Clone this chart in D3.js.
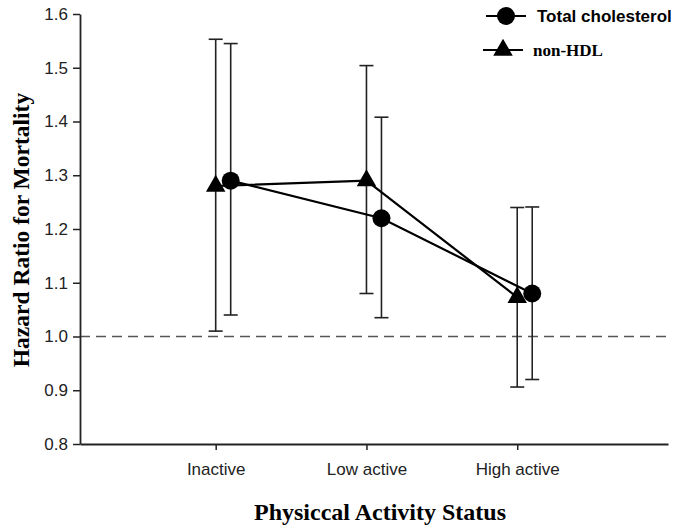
<!DOCTYPE html>
<html><head><meta charset="utf-8">
<script src="https://cdn.jsdelivr.net/npm/d3@7"></script>
<style>body{margin:0;background:#fff}svg{display:block}</style>
</head><body>
<svg id="c" width="675" height="529"></svg>
<script>
const categories = ["Inactive", "Low active", "High active"];
const yTicks = [0.8, 0.9, 1.0, 1.1, 1.2, 1.3, 1.4, 1.5, 1.6];
const seriesNames = ["Total cholesterol", "non-HDL"];
const tcValues = [1.29, 1.22, 1.08];
const tcLower = [1.04, 1.035, 0.92];
const tcUpper = [1.545, 1.408, 1.241];
const nhValues = [1.28, 1.29, 1.073];
const nhLower = [1.01, 1.08, 0.906];
const nhUpper = [1.553, 1.504, 1.240];
const refLine = 1.0;

const svg = d3.select("#c");
const x = d3.scaleLinear().domain([0.1, 4.0]).range([80, 668]);
const y = d3.scaleLinear().domain([0.8, 1.6]).range([444, 14]);
const xc = i => x(i + 1);
const sans = "Arial, 'Liberation Sans', sans-serif";
const serif = "'Liberation Serif', 'Times New Roman', serif";

// reference line
svg.append("line").attr("x1", 80).attr("x2", 668).attr("y1", y(refLine)).attr("y2", y(refLine))
  .attr("stroke", "#555").attr("stroke-width", 1.3).attr("stroke-dasharray", "10,6");

// axes
const yAxis = d3.axisLeft(y).tickValues(yTicks).tickFormat(d3.format(".1f")).tickSize(7).tickSizeOuter(0);
const gy = svg.append("g").attr("transform", "translate(80,0)").call(yAxis);
gy.selectAll("text").attr("font-family", sans).attr("font-size", 17).attr("fill", "#222").attr("dx", "-2");
gy.selectAll("line").attr("stroke", "#222").attr("stroke-width", 1.5);
gy.select(".domain").attr("stroke", "#222").attr("stroke-width", 1.8);

const xAxis = d3.axisBottom(x).tickValues([1, 2, 3]).tickFormat((d, i) => categories[i]).tickSize(6).tickSizeOuter(0);
const gx = svg.append("g").attr("transform", "translate(0,444)").call(xAxis);
gx.selectAll("text").attr("font-family", sans).attr("font-size", 17).attr("fill", "#222").attr("dy", "1.3em");
gx.selectAll("line").attr("stroke", "#222").attr("stroke-width", 1.5);
gx.select(".domain").attr("stroke", "#222").attr("stroke-width", 2);

// axis titles
svg.append("text").attr("x", 380).attr("y", 520).attr("text-anchor", "middle")
  .attr("font-family", serif).attr("font-weight", "bold").attr("font-size", 24)
  .text("Physiccal Activity Status");
svg.append("text").attr("transform", "translate(29,230) rotate(-90)").attr("text-anchor", "middle")
  .attr("font-family", serif).attr("font-weight", "bold").attr("font-size", 23.5)
  .text("Hazard Ratio for Mortality");

const series = [
  {name: seriesNames[0], vals: tcValues, lo: tcLower, hi: tcUpper, off: 15, sym: "circle"},
  {name: seriesNames[1], vals: nhValues, lo: nhLower, hi: nhUpper, off: 0, sym: "triangle"}
];

series.forEach(s => {
  const g = svg.append("g");
  s.vals.forEach((v, i) => {
    const cx = xc(i) + s.off;
    g.append("line").attr("x1", cx).attr("x2", cx).attr("y1", y(s.lo[i])).attr("y2", y(s.hi[i]))
      .attr("stroke", "#222").attr("stroke-width", 1.6);
    [s.lo[i], s.hi[i]].forEach(e => g.append("line").attr("x1", cx - 7).attr("x2", cx + 7).attr("y1", y(e)).attr("y2", y(e))
      .attr("stroke", "#222").attr("stroke-width", 1.6));
  });
});

series.forEach(s => {
  const line = d3.line().x((d, i) => xc(i) + s.off).y(d => y(d));
  svg.append("path").attr("d", line(s.vals)).attr("fill", "none").attr("stroke", "#000").attr("stroke-width", 2.2);
});

const circleSym = d3.symbol().type(d3.symbolCircle).size(Math.PI * 9 * 9);
const triSym = d3.symbol().type(d3.symbolTriangle).size(165);
series.forEach(s => {
  s.vals.forEach((v, i) => {
    svg.append("path").attr("d", s.sym === "circle" ? circleSym() : triSym())
      .attr("transform", `translate(${xc(i) + s.off},${y(v)})`).attr("fill", "#000");
  });
});

// legend
const leg = [
  {y: 16, sym: circleSym, cx: 506, font: sans, size: 17, text: seriesNames[0], tx: 537},
  {y: 50, sym: triSym, cx: 503, font: serif, size: 17, text: seriesNames[1], tx: 533}
];
leg.forEach(l => {
  svg.append("line").attr("x1", l.cx - 20).attr("x2", l.cx + 20).attr("y1", l.y).attr("y2", l.y).attr("stroke", "#000").attr("stroke-width", 2.2);
  svg.append("path").attr("d", l.sym()).attr("transform", `translate(${l.cx},${l.y})`).attr("fill", "#000");
  svg.append("text").attr("x", l.tx).attr("y", l.y + 6).attr("font-family", l.font).attr("font-weight", "bold")
    .attr("font-size", l.size).text(l.text);
});
</script>
</body></html>
